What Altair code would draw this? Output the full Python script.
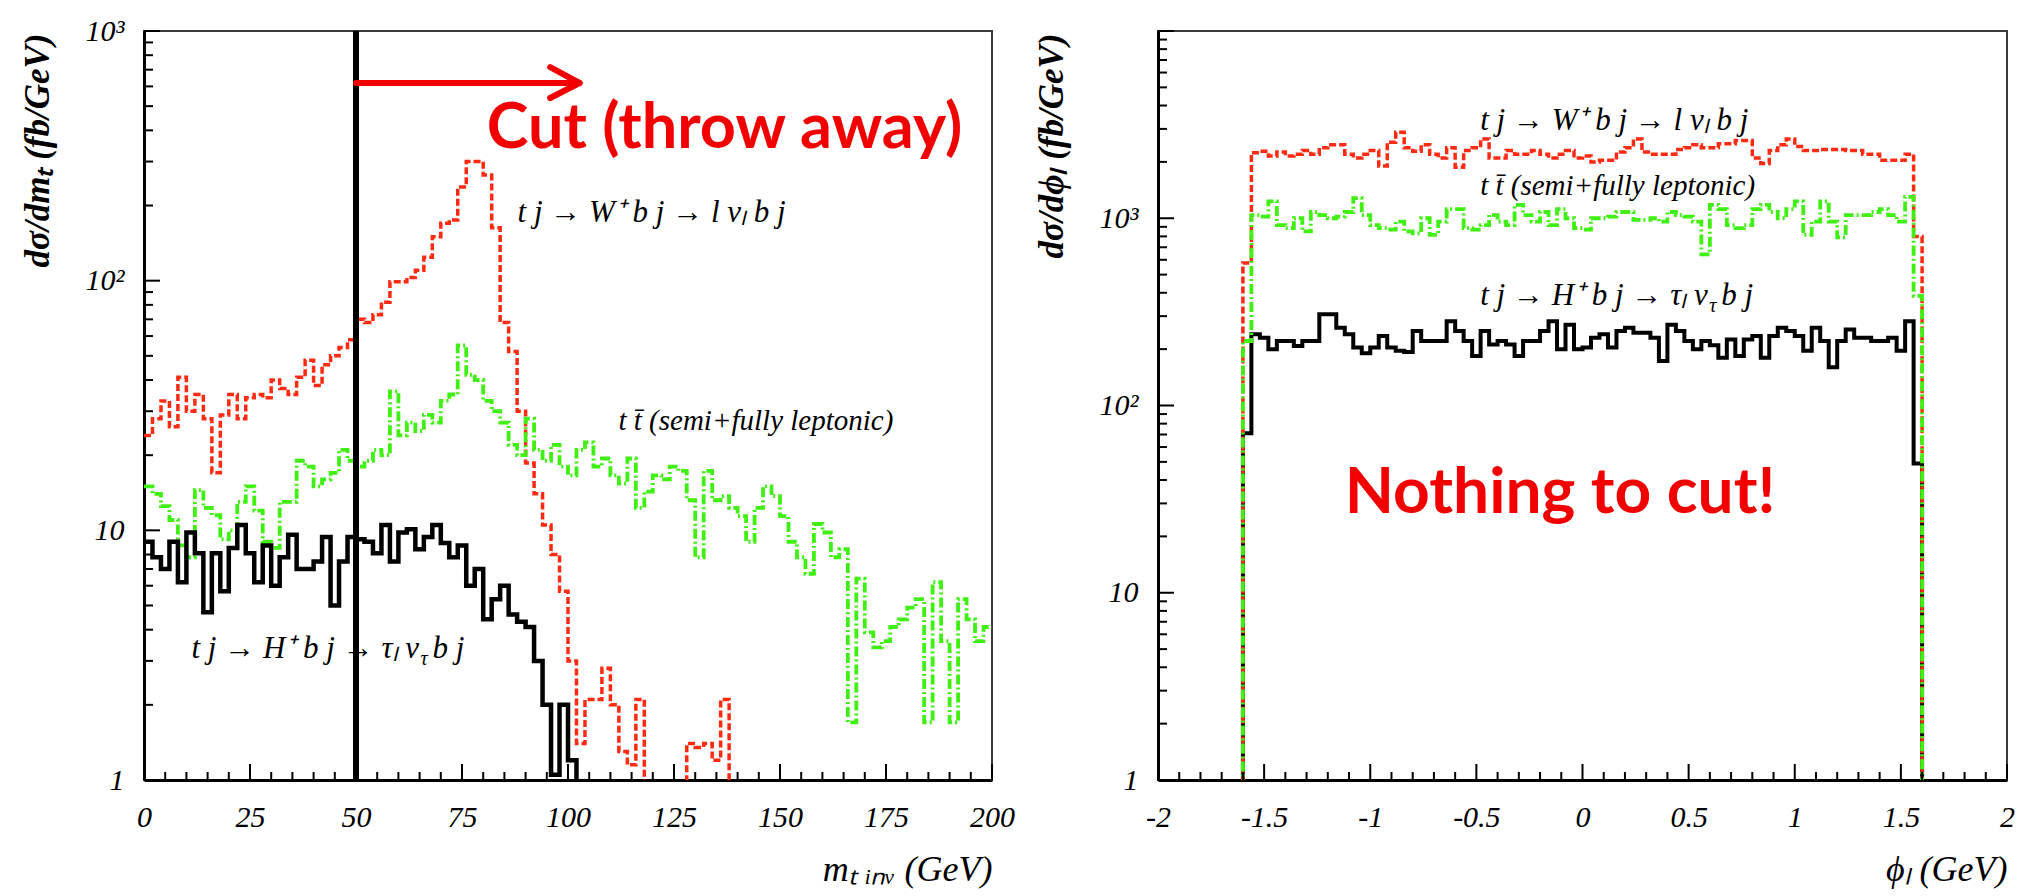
import altair as alt
import pandas as pd

# ---------------- data ----------------
# left panel: m_T inv histograms, 2 GeV bins from 0 to 200
MT_START = 0.0
MT_WIDTH = 2.0
red_mt = [
    24, 28, 33, 26, 41, 30, 35, 28, 17, 29,
    35, 28, 34, 35, 34, 40, 37, 35, 41, 48,
    38, 46, 50, 54, 58, 70, 68, 73, 82, 99,
    99, 103, 110, 124, 150, 170, 175, 237, 300, 300,
    265, 163, 68, 52, 30, 18.6, 14, 10.5, 8, 5.7,
    3.0, 1.4, 2.1, 2.1, 2.8, 2.0, 1.3, 1.15, 2.1, 0,
    0, 0, 0, 0, 1.4, 1.35, 1.4, 1.2, 2.1, 0,
    0, 0, 0, 0, 0, 0, 0, 0, 0, 0,
    0, 0, 0, 0, 0, 0, 0, 0, 0, 0,
    0, 0, 0, 0, 0, 0, 0, 0, 0, 0,
]
green_mt = [
    15, 14, 12.5, 11, 8.7, 7.8, 14.5, 12.3, 11.5, 9.2,
    10, 13, 15, 12, 9, 8.5, 13, 13, 19, 18,
    15, 16, 17, 21, 19, 18, 19, 21, 20, 36,
    24, 27, 25, 29, 27, 33, 35, 55, 42, 40,
    33, 30, 27, 22, 20, 28, 21, 19, 22, 18,
    16.6, 21, 22.5, 18, 19.4, 16.6, 15.4, 19.4, 12.3, 14.3,
    16.6, 16, 18, 17.3, 13.2, 7.8, 17.3, 13.2, 13.7, 12.3,
    11.4, 9.0, 12.3, 15, 13.7, 11.4, 9.0, 7.8, 6.7, 10.6,
    9.8, 7.8, 8.4, 1.7, 6.4, 3.9, 3.4, 3.6, 4.1, 4.4,
    4.9, 5.3, 1.7, 6.2, 3.6, 1.7, 5.3, 4.4, 3.6, 4.1,
]
black_mt = [
    9.0, 7.8, 7.0, 9.0, 6.2, 9.8, 8.1, 4.7, 8.1, 5.7,
    8.5, 10.5, 8.1, 6.2, 8.7, 6.0, 7.8, 9.6, 7.0, 7.0,
    7.5, 9.4, 5.0, 7.5, 9.4, 9.2, 9.0, 8.1, 10.5, 7.5,
    9.8, 10.1, 8.4, 9.4, 10.5, 8.9, 7.8, 8.7, 6.0, 7.0,
    4.4, 5.3, 6.0, 4.6, 4.3, 4.1, 3.0, 2.0, 1.05, 2.0,
    1.2, 0, 0, 0, 0, 0, 0, 0, 0, 0,
    0, 0, 0, 0, 0, 0, 0, 0, 0, 0,
    0, 0, 0, 0, 0, 0, 0, 0, 0, 0,
    0, 0, 0, 0, 0, 0, 0, 0, 0, 0,
    0, 0, 0, 0, 0, 0, 0, 0, 0, 0,
]

# right panel: phi_l histograms, 0.04 bins from -1.6 to 1.6
PHI_START = -1.6
PHI_WIDTH = 0.04
red_phi = [
    577, 2240, 2280, 2150, 2260, 2150, 2200, 2300, 2200, 2380,
    2470, 2470, 2200, 2100, 2200, 2300, 1900, 2550, 2880, 2380,
    2280, 2470, 2200, 2100, 2380, 1870, 2300, 2380, 2650, 2100,
    2100, 2300, 2200, 2200, 2300, 2200, 2100, 2200, 2300, 2100,
    2150, 2000, 2040, 2040, 2260, 2380, 2650, 2260, 2200, 2200,
    2200, 2330, 2380, 2470, 2380, 2380, 2500, 2500, 2600, 2600,
    2100, 1960, 2300, 2470, 2650, 2420, 2300, 2300, 2330, 2330,
    2330, 2300, 2300, 2200, 2200, 2040, 2040, 2040, 2200, 800,
]
green_phi = [
    221, 1040, 1020, 1230, 920, 885, 1000, 850, 1080, 1040,
    1000, 1020, 1080, 1280, 1040, 920, 885, 870, 960, 850,
    830, 1000, 816, 960, 1120, 1120, 885, 870, 920, 1040,
    960, 920, 1180, 1040, 960, 1080, 920, 1120, 1000, 885,
    870, 1000, 1000, 1020, 1080, 1080, 980, 980, 1000, 960,
    1080, 1040, 1020, 960, 641, 1180, 1120, 920, 885, 920,
    1120, 1180, 1080, 1000, 1120, 1230, 816, 960, 1230, 960,
    790, 1040, 1040, 1040, 1080, 1120, 1040, 960, 1300, 385,
]
black_phi = [
    71, 240, 230, 200, 221, 221, 208, 221, 221, 307,
    307, 260, 240, 204, 190, 204, 235, 204, 196, 193,
    250, 221, 221, 221, 282, 250, 221, 184, 250, 212,
    221, 212, 184, 221, 221, 250, 282, 200, 270, 200,
    204, 230, 240, 204, 250, 260, 245, 245, 230, 173,
    270, 250, 221, 200, 221, 210, 180, 225, 184, 225,
    235, 180, 235, 260, 250, 235, 196, 260, 221, 160,
    221, 255, 230, 230, 221, 221, 230, 196, 282, 49,
]

# axes
mt_domain = [0, 200]
mt_major = [0, 25, 50, 75, 100, 125, 150, 175, 200]
mt_minor_step = 5
phi_domain = [-2, 2]
phi_major = [-2, -1.5, -1, -0.5, 0, 0.5, 1, 1.5, 2]
phi_minor_step = 0.1
left_y_domain = [1, 1000]
left_y_major = [1, 10, 100, 1000]
right_y_domain = [1, 10000]
right_y_major = [1, 10, 100, 1000, 10000]
right_y_labels = [1, 10, 100, 1000]

# annotations
cut_x = 50
arrow_x = [50, 102.7]
arrow_y = 619
arrow_head_x = 95.8
arrow_head_y = [717, 539]

CANVAS_W, CANVAS_H = 2028, 896
PLOT_LEFT, PLOT_TOP = 144, 31
W = 848
W2 = 849
H = 749
GAP = 166
FLOOR = 0.05

RED = "#ff2a12"
GREEN = "#3ff012"
TXT_RED = "#f20000"
LBL = 31          # label font size
SUB_DX = 229      # where the small tau subscript starts
SUB_DX2 = 241     # where " b j" resumes


def step_table(values, start, width, close_ends):
    xs, ys = [], []
    if close_ends:
        xs.append(start)
        ys.append(FLOOR)
    for i, v in enumerate(values):
        y = v if v > 0 else FLOOR
        xs += [round(start + i * width, 6), round(start + (i + 1) * width, 6)]
        ys += [y, y]
    if close_ends:
        xs.append(round(start + len(values) * width, 6))
        ys.append(FLOOR)
    return pd.DataFrame({"x": xs, "y": ys, "o": list(range(len(xs)))})


def minor_ticks(lo, hi, step, majors):
    n = int(round((hi - lo) / step))
    vals = [round(lo + k * step, 6) for k in range(n + 1)]
    return [v for v in vals if all(abs(v - m) > 1e-9 for m in majors)]


def log_minors(decades):
    return [m * d for d in decades for m in range(2, 10)]


class Panel:
    def __init__(self, xscale, yscale, x_axis, y_axis):
        self.xs, self.ys, self.xa, self.ya = xscale, yscale, x_axis, y_axis

    def X(self, f="x:Q"):
        return alt.X(f, scale=self.xs, axis=self.xa)

    def Y(self, f="y:Q"):
        return alt.Y(f, scale=self.ys, axis=self.ya)

    def hist(self, df, color, sw, dash):
        kw = dict(color=color, strokeWidth=sw, clip=True, interpolate="linear")
        if dash:
            kw["strokeDash"] = dash
        return alt.Chart(df).mark_line(**kw).encode(x=self.X(), y=self.Y(), order="o:Q")

    def ticks(self, xmaj, xmin, ymaj, ymin):
        out = []
        for vals, ln in ((xmaj, 16), (xmin, 8)):
            out.append(alt.Chart(pd.DataFrame({"x": vals})).mark_rule(color="black", strokeWidth=2)
                       .encode(x=self.X(), y=alt.value(H), y2=alt.value(H - ln)))
        for vals, ln in ((ymaj, 16), (ymin, 9)):
            out.append(alt.Chart(pd.DataFrame({"y": vals})).mark_rule(color="black", strokeWidth=2)
                       .encode(y=self.Y(), x=alt.value(0), x2=alt.value(ln)))
        return out

    def text(self, x, y, label, size, color="black", font="Liberation Serif",
             style="italic", weight="normal", align="left", dx=0, dy=0):
        return alt.Chart(pd.DataFrame({"x": [x], "y": [y], "t": [label]})).mark_text(
            font=font, fontSize=size, fontStyle=style, fontWeight=weight, color=color,
            align=align, baseline="alphabetic", dx=dx, dy=dy,
        ).encode(x=self.X(), y=self.Y(), text="t:N")

    def h_label(self, x, y):
        return [
            self.text(x, y, "t j → H⁺ b j → τₗ ν", LBL),
            self.text(x, y, "τ", 20, dx=SUB_DX, dy=7),
            self.text(x, y, " b j", LBL, dx=SUB_DX2),
        ]


def x_axis(values, title, width):
    return alt.Axis(values=values, labelExpr="'' + datum.value", labelPadding=22,
                    labelFlush=False, labelOverlap=False,
                    title=title, titleX=width, titleY=100, titleAlign="right",
                    titleBaseline="alphabetic", titleFontSize=36, titleFontWeight="normal")


def y_axis(values, title):
    return alt.Axis(values=values,
                    labelExpr="datum.value == 1000 ? '10³' : datum.value == 100 ? '10²' : '' + datum.value",
                    labelPadding=20, labelFlush=False, labelOverlap=False,
                    title=title, titleX=-107, titleY=2, titleAngle=270,
                    titleAlign="right", titleBaseline="middle",
                    titleFontSize=35, titleFontWeight="bold")


# ---------------- left panel ----------------
PL = Panel(alt.Scale(domain=mt_domain, nice=False, zero=False),
           alt.Scale(type="log", domain=left_y_domain, nice=False),
           x_axis(mt_major, "mₜ ᵢₙᵥ (GeV)", W), y_axis(left_y_major, "dσ/dmₜ (fb/GeV)"))

left_layers = [
    PL.hist(step_table(red_mt, MT_START, MT_WIDTH, False), RED, 3.5, [7, 3]),
    PL.hist(step_table(green_mt, MT_START, MT_WIDTH, False), GREEN, 3.8, [10, 3, 2, 3]),
    PL.hist(step_table(black_mt, MT_START, MT_WIDTH, False), "black", 4.5, None),
    *PL.ticks(mt_major, minor_ticks(0, 200, mt_minor_step, mt_major),
              left_y_major, log_minors([1, 10, 100])),
    PL.text(88.1, 172, "t j → W⁺ b j → l νₗ b j", LBL),
    PL.text(111.9, 25.2, "t t̄ (semi+fully leptonic)", 29),
    *PL.h_label(11.2, 3.08),
    PL.text(136.9, 340, "Cut (throw away)", 63, color=TXT_RED,
            font="Lato", style="normal", weight="bold", align="center"),
]
# cut line
left_layers.append(
    alt.Chart(pd.DataFrame({"x": [cut_x], "y": [left_y_domain[0]], "y2": [left_y_domain[1]]}))
    .mark_rule(color="black", strokeWidth=6)
    .encode(x=PL.X(), y=PL.Y(), y2="y2:Q")
)
# arrow
arrow_df = pd.DataFrame({
    "x": [arrow_x[0], arrow_x[1], arrow_x[1]],
    "x2": [arrow_x[1], arrow_head_x, arrow_head_x],
    "y": [arrow_y, arrow_y, arrow_y],
    "y2": [arrow_y, arrow_head_y[0], arrow_head_y[1]],
})
left_layers.append(
    alt.Chart(arrow_df).mark_rule(color=TXT_RED, strokeWidth=6, strokeCap="round")
    .encode(x=PL.X(), x2="x2:Q", y=PL.Y(), y2="y2:Q")
)
left = alt.layer(*left_layers).properties(width=W, height=H)

# ---------------- right panel ----------------
PR = Panel(alt.Scale(domain=phi_domain, nice=False, zero=False),
           alt.Scale(type="log", domain=right_y_domain, nice=False),
           x_axis(phi_major, "ϕₗ (GeV)", W2), y_axis(right_y_labels, "dσ/dϕₗ (fb/GeV)"))

right_layers = [
    PR.hist(step_table(black_phi, PHI_START, PHI_WIDTH, True), "black", 4, None),
    PR.hist(step_table(red_phi, PHI_START, PHI_WIDTH, True), RED, 3.5, [7, 3]),
    PR.hist(step_table(green_phi, PHI_START, PHI_WIDTH, True), GREEN, 3.8, [10, 3, 2, 3]),
    *PR.ticks(phi_major, minor_ticks(-2, 2, phi_minor_step, phi_major),
              right_y_major, log_minors([1, 10, 100, 1000])),
    PR.text(-0.482, 2960, "t j → W⁺ b j → l νₗ b j", LBL),
    PR.text(-0.482, 1331, "t t̄ (semi+fully leptonic)", 29),
    *PR.h_label(-0.482, 344),
    PR.text(-0.1055, 26.7, "Nothing to cut!", 64, color=TXT_RED,
            font="Lato", style="normal", weight="bold", align="center"),
]
right = alt.layer(*right_layers).properties(width=W2, height=H)

chart = (
    alt.hconcat(left, right, spacing=GAP, bounds="flush")
    .properties(
        autosize=alt.AutoSizeParams(type="none"),
        padding={"left": PLOT_LEFT, "top": PLOT_TOP,
                 "right": CANVAS_W - PLOT_LEFT, "bottom": CANVAS_H - PLOT_TOP},
        background="white",
    )
    .configure_view(stroke="#3a3a3a", strokeWidth=2)
    .configure_axis(grid=False, ticks=False, tickSize=0, domainColor="black", domainWidth=3,
                    labelFont="Liberation Serif", labelFontStyle="italic", labelFontSize=30,
                    labelColor="black", titleFont="Liberation Serif", titleFontStyle="italic",
                    titleColor="black")
)

chart.save("out.html", embed_options={"renderer": "svg", "actions": False})
